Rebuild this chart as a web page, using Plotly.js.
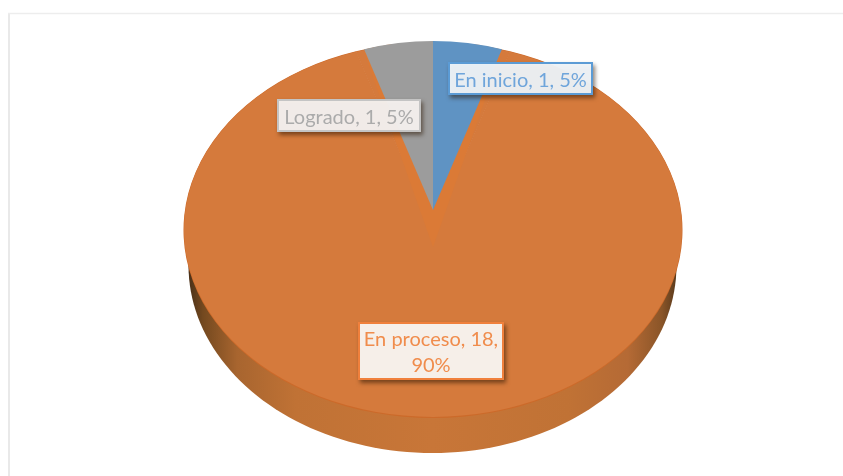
<!DOCTYPE html>
<html>
<head>
<meta charset="utf-8">
<script src="https://cdn.plot.ly/plotly-3.0.1.min.js"></script>
<style>
html,body{margin:0;padding:0;background:#fff;overflow:hidden}
#chart{width:843px;height:476px;filter:blur(.45px)}
.annotation rect.bg{filter:drop-shadow(2px 3px 2px rgba(40,20,0,.55))}
</style>
</head>
<body>
<div id="chart"></div>
<script>
// Data
const categories = ['En inicio', 'En proceso', 'Logrado'];
const counts = [1, 18, 1];
const percents = [5, 90, 5];
const percentSeparators = [', ', ',<br>', ', '];

// Colours
const sliceColors = ['#5F93C3', 'rgba(0,0,0,0)', '#9C9C9C'];
const edgeColor = '#CC6A2A';
const faceColor = '#D57A3C';
const bevelColor = '#DB7A36';
const labelText = ['#6FA5DB', '#F08C4C', '#ABABAB'];
const labelFill = ['rgba(240,245,250,.95)', '#F6EFE9', 'rgba(245,241,238,.97)'];
const labelLine = ['#5B9BD5', '#F0803C', '#C4C4C4'];

// Page geometry (pixels)
const W = 843, H = 476, R0 = 200;
const edge = {cx: 433, cy: 230, rx: 249.5, ry: 188};
const face = {cx: 433, cy: 229.7, rx: 249, ry: 187.2};
const bevel = {cx: 433, cy: 247, rx: 223, ry: 205};
const wedge = {cx: 433, cy: 210, rx: 223, ry: 169};
const rim = {cx: 432.5, cy: 265.5, rx: 244, ry: 187.5};
const boxes = [
  {x: 520.5, y: 78.5, w: 145, h: 33},
  {x: 431, y: 351, w: 146, h: 58},
  {x: 349, y: 115.5, w: 144, h: 33}
];

function pieTrace(colors) {
  return {
    type: 'pie', values: counts, labels: categories, sort: false,
    direction: 'clockwise', rotation: 0, textinfo: 'none', hoverinfo: 'skip',
    showlegend: false,
    domain: {x: [(W / 2 - R0) / W, (W / 2 + R0) / W], y: [(H / 2 - R0) / H, (H / 2 + R0) / H]},
    marker: {colors: colors, line: {color: 'rgba(0,0,0,0)', width: 0}}
  };
}

// Side wall of the 3D pie: outline from the ellipse parameters
const rimX = [], rimY = [];
for (let d = 0; d <= 180; d += 2) {
  const a = d * Math.PI / 180;
  rimX.push(rim.cx + rim.rx * Math.cos(a));
  rimY.push(rim.cy + rim.ry * Math.sin(a));
}
const rimTrace = {
  type: 'scatter', mode: 'none', x: rimX, y: rimY, fill: 'toself',
  hoverinfo: 'skip', showlegend: false,
  fillgradient: {
    type: 'horizontal', start: rim.cx - rim.rx, stop: rim.cx + rim.rx,
    colorscale: [[0, '#4A3018'], [0.03, '#74491F'], [0.1, '#A8652F'], [0.22, '#C07235'],
                 [0.5, '#C87638'], [0.78, '#C07235'], [0.9, '#B56A35'], [0.97, '#8A5528'], [1, '#5A3A1C']]
  }
};

const traces = [
  rimTrace,
  pieTrace([edgeColor, edgeColor, edgeColor]),
  pieTrace([faceColor, faceColor, faceColor]),
  pieTrace([bevelColor, 'rgba(0,0,0,0)', bevelColor]),
  pieTrace(sliceColors)
];

const annotations = categories.map((c, i) => ({
  xref: 'x', yref: 'y', x: boxes[i].x, y: boxes[i].y, showarrow: false,
  text: c + ', ' + counts[i] + percentSeparators[i] + percents[i] + '%',
  width: boxes[i].w - 4, height: boxes[i].h - 4, align: 'center', valign: 'middle',
  font: {family: 'Lato, Carlito, sans-serif', size: 20, color: labelText[i]},
  bgcolor: labelFill[i], bordercolor: labelLine[i], borderwidth: 2, borderpad: 0
}));

const layout = {
  width: W, height: H, margin: {l: 0, r: 0, t: 0, b: 0},
  paper_bgcolor: '#fff', plot_bgcolor: '#fff',
  xaxis: {range: [0, W], visible: false, fixedrange: true},
  yaxis: {range: [H, 0], visible: false, fixedrange: true},
  annotations: annotations,
  shapes: [
    {type: 'line', xref: 'x', yref: 'y', x0: 9, x1: 9, y0: 13, y1: H, line: {color: '#E9E9E9', width: 2}},
    {type: 'line', xref: 'x', yref: 'y', x0: 8, x1: W, y0: 13.5, y1: 13.5, line: {color: '#EDEDED', width: 1.5}}
  ]
};

Plotly.newPlot('chart', traces, layout, {staticPlot: true, displayModeBar: false}).then(() => {
  // Plotly pies are circular: squash each one to the perspective ellipse of the picture
  const geo = [edge, face, bevel, wedge];
  document.querySelectorAll('.pielayer .trace').forEach((g, i) => {
    const e = geo[i];
    g.setAttribute('transform',
      `translate(${e.cx},${e.cy}) scale(${e.rx / R0},${e.ry / R0}) translate(${-W / 2},${-H / 2})`);
  });
});
</script>
</body>
</html>
